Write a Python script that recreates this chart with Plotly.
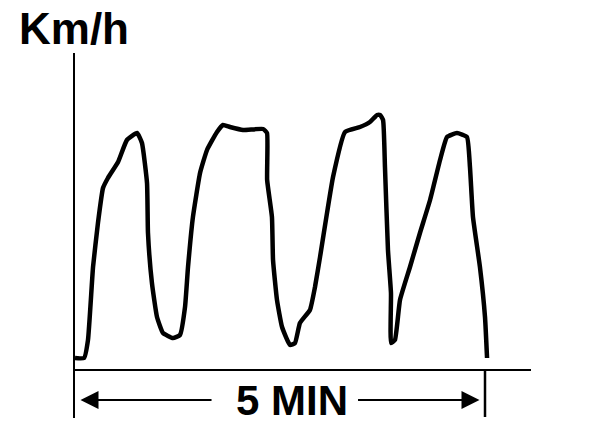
import plotly.graph_objects as go

# Data: time (s) vs speed (km/h)
time_s = [0, 6.6, 9.5, 13.2, 16.8, 20.5, 24.1, 31.5, 38.0, 45.4,
          49.0, 52.7, 53.4, 56.3, 60.0, 64.4, 71.7, 76.8, 80.5, 82.7,
          86.3, 91.5, 96.6, 103.9, 108.3, 113.4, 122.9, 137.6, 140.5, 140.6,
          144.1, 144.9, 147.8, 151.5, 157.3, 161.0, 164.6, 171.9, 175.6, 179.3,
          184.4, 188.8, 197.6, 208.5, 215.8, 221.0, 223.2, 225.4, 226.8, 229.0,
          231.2, 231.3, 234.1, 237.8, 245.1, 252.4, 259.8, 267.1, 272.2, 279.5,
          286.8, 289.0, 291.2, 296.3, 300.0, 301.5]
speed_kmh = [2.4, 2.4, 6.0, 20.6, 29.4, 36.4, 38.4, 41.6, 46.0, 47.4,
             45.4, 37.4, 27.4, 17.4, 10.6, 7.4, 6.4, 7.0, 12.6, 20.6,
             30.6, 39.4, 44.0, 47.6, 49.0, 48.6, 48.0, 48.2, 47.4, 38.0,
             30.6, 22.0, 14.0, 8.6, 5.0, 5.4, 9.4, 12.0, 16.6, 22.6,
             31.4, 38.6, 47.6, 48.6, 49.6, 51.0, 51.0, 50.0, 40.6, 24.0,
             15.4, 5.4, 6.0, 14.0, 20.6, 27.4, 34.0, 42.0, 46.6, 47.4,
             46.6, 40.6, 30.6, 20.6, 10.6, 2.4]

y_label = "Km/h"
duration_label = "5 MIN"
duration_s = 300
dim_level = -6.0      # speed level where the dimension arrow is drawn
dim_tick_bottom = -9.4

fig = go.Figure()
fig.add_trace(go.Scatter(x=time_s, y=speed_kmh, mode="lines",
                         line=dict(color="black", width=4.5, shape="spline",
                                   smoothing=0.4),
                         hoverinfo="skip", showlegend=False))

font_family = "Liberation Sans, Arial, sans-serif"

# dimension arrows
fig.add_annotation(x=4, y=dim_level, ax=101, ay=dim_level,
                   xref="x", yref="y", axref="x", ayref="y",
                   text="", showarrow=True, arrowhead=2, arrowsize=1.8,
                   arrowwidth=2, arrowcolor="black")
fig.add_annotation(x=296, y=dim_level, ax=206, ay=dim_level,
                   xref="x", yref="y", axref="x", ayref="y",
                   text="", showarrow=True, arrowhead=2, arrowsize=1.8,
                   arrowwidth=2, arrowcolor="black")
fig.add_annotation(x=158.5, y=dim_level, xref="x", yref="y",
                   text="<b>" + duration_label + "</b>", showarrow=False,
                   font=dict(family=font_family, size=42, color="black"),
                   xanchor="center", yanchor="middle")
fig.add_shape(type="line", x0=duration_s, x1=duration_s, y0=0, y1=dim_tick_bottom,
              xref="x", yref="y", line=dict(color="black", width=2.5))

# axis title
fig.add_annotation(x=-0.127, y=1.068, xref="paper", yref="paper",
                   text="<b>" + y_label + "</b>", showarrow=False,
                   font=dict(family=font_family, size=44, color="black"),
                   xanchor="left", yanchor="middle")

fig.update_layout(
    width=608, height=434,
    margin=dict(l=75, r=77, t=53, b=16),
    paper_bgcolor="white", plot_bgcolor="white",
    xaxis=dict(range=[0, 333.66], showgrid=False, zeroline=False,
               showline=False, showticklabels=False, ticks=""),
    yaxis=dict(range=[-9.6, 63.4], showgrid=False, zeroline=True,
               zerolinecolor="black", zerolinewidth=2.5,
               showline=True, linecolor="black", linewidth=2,
               showticklabels=False, ticks=""),
)

fig.write_html("out.html",
               config={"displayModeBar": False, "staticPlot": True},
               post_script="document.body.style.margin='0px';"
                           "document.body.style.overflow='hidden';")
